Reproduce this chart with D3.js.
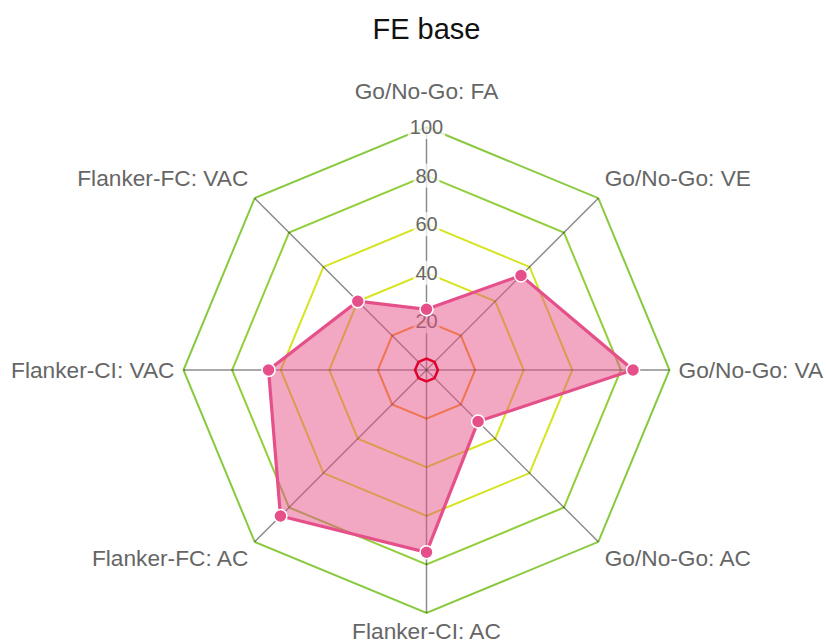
<!DOCTYPE html>
<html>
<head>
<meta charset="utf-8">
<script src="https://d3js.org/d3.v7.min.js"></script>
<style>
  html, body { margin: 0; padding: 0; background: #fff; }
  svg { display: block; font-family: "Liberation Sans", Arial, sans-serif; }
</style>
</head>
<body>
<div id="chart"></div>
<script>
// chart data
const title = "FE base";
const axes = [
  "Go/No-Go: FA", "Go/No-Go: VE", "Go/No-Go: VA", "Go/No-Go: AC",
  "Flanker-CI: AC", "Flanker-FC: AC", "Flanker-CI: VAC", "Flanker-FC: VAC"
];
const values = [25, 55, 85, 30, 75, 85, 65, 40];
const tickValues = [20, 40, 60, 80, 100];
const ringValues = [20, 40, 60, 80, 100];
const ringColors = ["#f99a1c", "#d7e41c", "#d4e41e", "#93cf3c", "#88c93f"];
const centerRingValue = 4.7;
const centerRingColor = "#e3002c";

const width = 826, height = 644;
const cx = 426.5, cy = 370, R = 243;

const svg = d3.select("#chart").append("svg")
  .attr("width", width)
  .attr("height", height);

const rScale = d3.scaleLinear().domain([0, 100]).range([0, R]);
const angle = i => (i / axes.length) * 2 * Math.PI;  // 0 = top, clockwise
const px = (i, r) => cx + r * Math.sin(angle(i));
const py = (i, r) => cy - r * Math.cos(angle(i));
const ringPoints = v => axes.map((_, i) => [px(i, rScale(v)), py(i, rScale(v))].join(",")).join(" ");

// title
svg.append("text")
  .attr("x", cx)
  .attr("y", 39)
  .attr("text-anchor", "middle")
  .attr("font-size", 29)
  .attr("fill", "#111")
  .text(title);

// grid rings
const grid = svg.append("g");
grid.selectAll("polygon")
  .data(ringValues)
  .join("polygon")
  .attr("points", ringPoints)
  .attr("fill", "none")
  .attr("stroke", (d, i) => ringColors[i])
  .attr("stroke-width", 2);

// angle lines
grid.selectAll("line")
  .data(axes)
  .join("line")
  .attr("x1", cx).attr("y1", cy)
  .attr("x2", (d, i) => px(i, R))
  .attr("y2", (d, i) => py(i, R))
  .attr("stroke", "rgba(0,0,0,0.45)")
  .attr("stroke-width", 1.5);

// point labels
const labelSize = 22.7;
const lineH = labelSize * 1.2;
svg.append("g").selectAll("text")
  .data(axes)
  .join("text")
  .attr("font-size", labelSize)
  .attr("fill", "#666")
  .attr("text-anchor", (d, i) => {
    const s = Math.sin(angle(i));
    return Math.abs(s) < 0.01 ? "middle" : (s > 0 ? "start" : "end");
  })
  .attr("x", (d, i) => px(i, R + 9))
  .attr("y", (d, i) => {
    const c = Math.cos(angle(i));
    if (Math.abs(c) < 0.01) return py(i, R + 9);
    if (c > 0) {
      const extra = i === 0 ? 13 : 0;
      return py(i, R + 9 + extra) - lineH / 2;
    }
    return py(i, R + 4) + lineH / 2;
  })
  .attr("dominant-baseline", "central")
  .text(d => d);

// tick labels with backdrop
const ticks = svg.append("g");
const tickG = ticks.selectAll("g")
  .data(tickValues)
  .join("g")
  .attr("transform", v => `translate(${cx},${cy - rScale(v)})`);
tickG.append("rect")
  .attr("x", v => -String(v).length * 5.56 - 2)
  .attr("y", -12)
  .attr("width", v => String(v).length * 11.12 + 4)
  .attr("height", 24)
  .attr("fill", "rgba(255,255,255,0.75)");
tickG.append("text")
  .attr("text-anchor", "middle")
  .attr("dominant-baseline", "central")
  .attr("font-size", 20)
  .attr("fill", "#666")
  .text(v => v);

// data polygon
const pts = values.map((v, i) => [px(i, rScale(v)), py(i, rScale(v))]);
svg.append("polygon")
  .attr("points", pts.map(p => p.join(",")).join(" "))
  .attr("fill", "rgba(230,80,135,0.5)")
  .attr("stroke", "#e6508a")
  .attr("stroke-width", 3.2)
  .attr("stroke-linejoin", "miter");

// small red ring at the centre
svg.append("polygon")
  .attr("points", ringPoints(centerRingValue))
  .attr("fill", "none")
  .attr("stroke", centerRingColor)
  .attr("stroke-width", 2.5);

svg.append("g").selectAll("circle")
  .data(pts)
  .join("circle")
  .attr("cx", d => d[0])
  .attr("cy", d => d[1])
  .attr("r", 6.5)
  .attr("fill", "#e6508a")
  .attr("stroke", "#fff")
  .attr("stroke-width", 1.5);
</script>
</body>
</html>
